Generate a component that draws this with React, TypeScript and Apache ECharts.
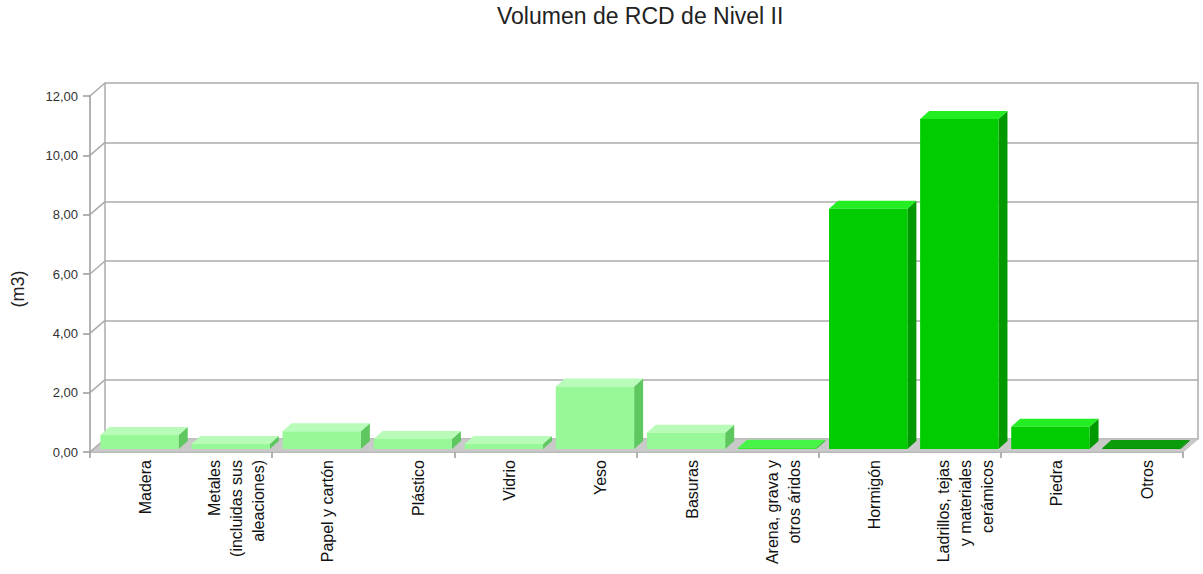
import React, { useEffect, useRef } from "react";
import * as echarts from "echarts";

const titleText = "Volumen de RCD de Nivel II";
const yAxisName = "(m3)";
const categories = [
  "Madera",
  "Metales\n(incluidas sus\naleaciones)",
  "Papel y cartón",
  "Plástico",
  "Vidrio",
  "Yeso",
  "Basuras",
  "Arena, grava y\notros áridos",
  "Hormigón",
  "Ladrillos, tejas\ny materiales\ncerámicos",
  "Piedra",
  "Otros",
];
const values = [0.47, 0.17, 0.6, 0.34, 0.17, 2.11, 0.55, 0.04, 8.1, 11.12, 0.75, 0.03];
const yMin = 0;
const yMax = 12;
const yStep = 2;
const yTicks = [0, 2, 4, 6, 8, 10, 12];

// style palette (front, top, side) per bar group
const pale = { front: "#98f898", top: "#b9fbb9", side: "#5fc75f" };
const bright = { front: "#2fef2f", top: "#47f547", side: "#1fb81f" };
const mid = { front: "#00cc00", top: "#22ee22", side: "#009a00" };
const dark = { front: "#009600", top: "#0a9c0a", side: "#006f00" };
const barStyles = [pale, pale, pale, pale, pale, pale, pale, bright, mid, mid, mid, dark];

const FONT = "'Liberation Sans', Arial, sans-serif";
const GRID_LEFT = 90;
const GRID_TOP = 96;
const GRID_W = 1093;
const GRID_H = 356;
const DEPTH_X = 15;
const DEPTH_Y = -13;

export default function App() {
  const ref = useRef<HTMLDivElement>(null);
  useEffect(() => {
    document.body.style.margin = "0";
    const chart = echarts.init(ref.current!, null, { renderer: "svg" });
    const gridLine = "#ababab";
    chart.setOption({
      animation: false,
      backgroundColor: "#ffffff",
      title: {
        text: titleText,
        left: 497,
        top: 4,
        padding: 0,
        textStyle: { fontFamily: FONT, fontSize: 23, fontWeight: "normal", color: "#222" },
      },
      graphic: [
        {
          type: "text",
          x: 18,
          y: 289,
          rotation: Math.PI / 2,
          style: {
            text: yAxisName,
            fontFamily: FONT,
            fontSize: 18,
            fill: "#222",
            align: "center",
            verticalAlign: "middle",
          },
        },
      ],
      grid: [
        { left: GRID_LEFT, top: GRID_TOP, width: GRID_W, height: GRID_H },
        { left: GRID_LEFT + DEPTH_X, top: GRID_TOP + DEPTH_Y, width: GRID_W, height: GRID_H },
        { left: GRID_LEFT + 10, top: GRID_TOP, width: GRID_W, height: GRID_H },
      ],
      xAxis: [
        {
          type: "category",
          gridIndex: 0,
          data: categories,
          axisLine: { show: true, lineStyle: { color: "#b5b5b5", width: 1 } },
          axisTick: { show: true, length: 6, lineStyle: { color: "#999", width: 1.5 } },
          axisLabel: { show: false },
          splitLine: { show: false },
        },
        {
          type: "category",
          gridIndex: 1,
          data: categories,
          show: false,
        },
        {
          type: "category",
          gridIndex: 2,
          data: categories,
          axisLine: { show: false },
          axisTick: { show: false },
          axisLabel: {
            interval: 0,
            rotate: 90,
            margin: 8,
            fontFamily: FONT,
            fontSize: 16,
            lineHeight: 22,
            color: "#111",
          },
        },
      ],
      yAxis: [
        {
          type: "value",
          gridIndex: 0,
          min: yMin,
          max: yMax,
          interval: yStep,
          axisLine: { show: true, lineStyle: { color: "#9a9a9a", width: 1.5 } },
          axisTick: { show: true, length: 7, lineStyle: { color: "#9a9a9a", width: 1.5 } },
          axisLabel: {
            margin: 12,
            fontFamily: FONT,
            fontSize: 13,
            color: "#333",
            formatter: (v: number) => v.toFixed(2).replace(".", ","),
          },
          splitLine: { show: false },
        },
        {
          type: "value",
          gridIndex: 1,
          min: yMin,
          max: yMax,
          interval: yStep,
          axisLine: { show: true, lineStyle: { color: gridLine, width: 1.5 } },
          axisTick: { show: false },
          axisLabel: { show: false },
          splitLine: { show: true, lineStyle: { color: gridLine, width: 1.5 } },
        },
        {
          type: "value",
          gridIndex: 1,
          position: "right",
          min: yMin,
          max: yMax,
          interval: yStep,
          axisLine: { show: true, lineStyle: { color: gridLine, width: 1.5 } },
          axisTick: { show: false },
          axisLabel: { show: false },
          splitLine: { show: false },
        },
        {
          type: "value",
          gridIndex: 2,
          show: false,
          min: yMin,
          max: yMax,
        },
      ],
      series: [
        {
          // floor
          type: "custom",
          xAxisIndex: 0,
          yAxisIndex: 0,
          z: 1,
          data: [[0, 0]],
          renderItem: (params: any, api: any) => {
            const cs = params.coordSys;
            const p = api.coord([0, yMin]);
            const yb = p[1];
            return {
              type: "polygon",
              shape: {
                points: [
                  [cs.x, yb],
                  [cs.x + cs.width, yb],
                  [cs.x + cs.width + DEPTH_X, yb + DEPTH_Y],
                  [cs.x + DEPTH_X, yb + DEPTH_Y],
                ],
              },
              style: { fill: "#c9c9c9", stroke: "#bdbdbd", lineWidth: 1 },
            };
          },
        },
        {
          // left wall diagonals
          type: "custom",
          xAxisIndex: 0,
          yAxisIndex: 0,
          z: 1,
          data: yTicks.map((v) => [0, v]),
          renderItem: (params: any, api: any) => {
            const cs = params.coordSys;
            const p = api.coord([0, api.value(1)]);
            return {
              type: "line",
              shape: { x1: cs.x, y1: p[1], x2: cs.x + DEPTH_X, y2: p[1] + DEPTH_Y },
              style: { stroke: gridLine, lineWidth: 1.5 },
            };
          },
        },
        {
          // 3D bars
          type: "custom",
          xAxisIndex: 0,
          yAxisIndex: 0,
          z: 3,
          data: values.map((v, i) => [i, v]),
          renderItem: (params: any, api: any) => {
            const idx = api.value(0);
            const val = api.value(1);
            const base = api.coord([idx, 0]);
            const top = api.coord([idx, val]);
            const slot = api.size([1, 0])[0];
            const w = slot * 0.86;
            const ox = 4;
            const oy = -3;
            const dx = 9;
            const dy = -8;
            const x0 = base[0] - w / 2 + ox;
            const x1 = x0 + w;
            const yb = base[1] + oy;
            const yt = top[1] + oy;
            const st = barStyles[params.dataIndex];
            return {
              type: "group",
              children: [
                {
                  type: "polygon",
                  shape: {
                    points: [
                      [x1, yt],
                      [x1 + dx, yt + dy],
                      [x1 + dx, yb + dy],
                      [x1, yb],
                    ],
                  },
                  style: { fill: st.side },
                },
                {
                  type: "polygon",
                  shape: {
                    points: [
                      [x0, yt],
                      [x1, yt],
                      [x1 + dx, yt + dy],
                      [x0 + dx, yt + dy],
                    ],
                  },
                  style: { fill: st.top },
                },
                {
                  type: "rect",
                  shape: { x: x0, y: yt, width: w, height: Math.max(yb - yt, 0.5) },
                  style: { fill: st.front },
                },
              ],
            };
          },
        },
      ],
    });
    return () => chart.dispose();
  }, []);
  return <div ref={ref} style={{ width: 1203, height: 574 }} />;
}
